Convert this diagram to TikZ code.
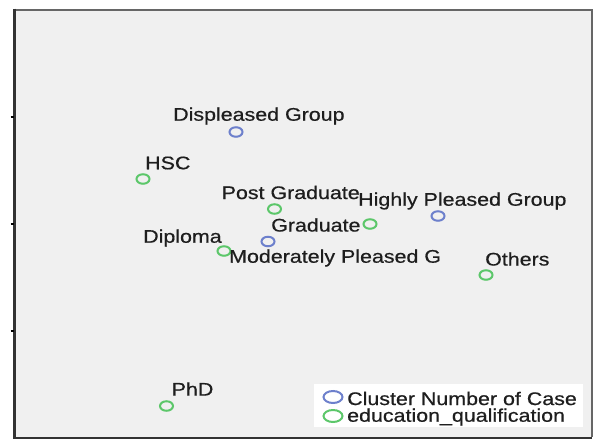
\documentclass[tikz,border=0pt]{standalone}
\usepackage{fontspec}
\usetikzlibrary{shapes.geometric}
\setmainfont[FakeStretch=1.17,FakeBold=0.6]{Liberation Sans}
\definecolor{plotbg}{HTML}{F0F0F0}
\definecolor{clusterblue}{HTML}{6D80CC}
\definecolor{edugreen}{HTML}{5CC76A}
\definecolor{labeltext}{HTML}{1E1E1E}
\begin{document}
\begin{tikzpicture}[x=1pt,y=-1pt,
  lbl/.style={anchor=west,inner sep=0pt,text=labeltext,font=\fontsize{18.3}{20}\selectfont},
  clpt/.style={draw=clusterblue,line width=2pt,ellipse,minimum width=13pt,minimum height=9.5pt,inner sep=0pt},
  edpt/.style={draw=edugreen,line width=2pt,ellipse,minimum width=13pt,minimum height=9.5pt,inner sep=0pt},
  legcl/.style={clpt,minimum width=19pt,minimum height=12pt},
  leged/.style={edpt,minimum width=19pt,minimum height=12pt}]
\useasboundingbox (0,0) rectangle (593,439);
\fill[white] (0,0) rectangle (593,439);
% plot area
\fill[plotbg] (14,9) rectangle (591.5,437);
\draw[gray!80!black,line width=2pt] (13,9.5) -- (591.5,9.5) -- (591.5,437);
\draw[black!80,line width=3pt] (14.5,8.5) -- (14.5,438);
\draw[black!80,line width=1.6pt] (13,437.8) -- (591.5,437.8);
% y-axis ticks
\foreach \ty in {117,224,331} \draw[black,line width=1.6pt] (10.5,\ty) -- (14,\ty);
% cluster points
\node[clpt] (displeased) at (236,132) {};
\node[clpt] (highly) at (438,216) {};
\node[clpt] (moderately) at (268,241.5) {};
% education points
\node[edpt] (hsc) at (143,179) {};
\node[edpt] (postgrad) at (274.5,209) {};
\node[edpt] (graduate) at (370,224) {};
\node[edpt] (diploma) at (224,251) {};
\node[edpt] (others) at (486,275) {};
\node[edpt] (phd) at (166.5,406) {};
% labels
\node[lbl] (displeasedL) at (173,116) {Displeased Group};
\node[lbl] (hscL) at (145,163) {HSC};
\node[lbl] (postgradL) at (221.5,192.5) {Post Graduate};
\node[lbl] (highlyL) at (358,201) {Highly Pleased Group};
\node[lbl] (graduateL) at (271,225) {Graduate};
\node[lbl] (diplomaL) at (143,238) {Diploma};
\node[lbl] (moderatelyL) at (229,258) {Moderately Pleased G};
\node[lbl] (othersL) at (485,259) {Others};
\node[lbl] (phdL) at (171.5,389) {PhD};
% legend
\node[fill=white,minimum width=269pt,minimum height=43pt,inner sep=0pt] (legend) at (448.5,405.5) {};
\node[legcl] (legA) at (333,397) {};
\node[leged] (legB) at (333,416) {};
\node[lbl] (legAL) at (347,398.5) {Cluster Number of Case};
\node[lbl] (legBL) at (347,417) {education\_qualification};
\end{tikzpicture}
\end{document}
